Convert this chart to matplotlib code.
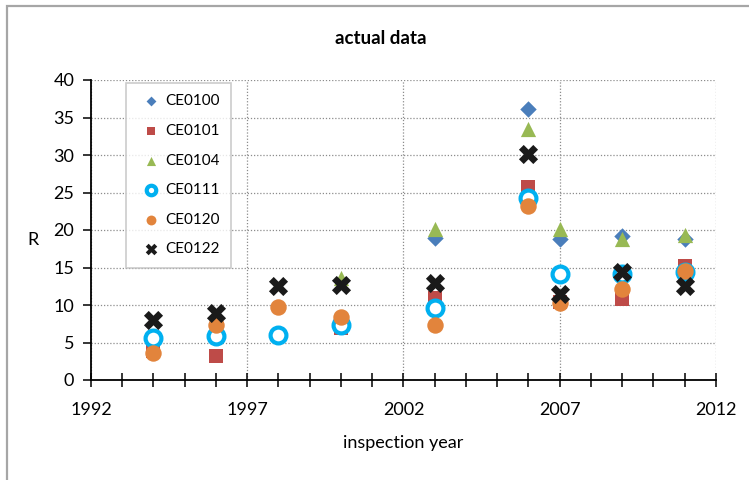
import matplotlib
matplotlib.use("Agg")
import matplotlib.pyplot as plt
from matplotlib.patches import Rectangle
from matplotlib.ticker import MultipleLocator

plt.rcParams["font.family"] = ["Lato", "DejaVu Sans"]

# values
yrs_100 = [2003, 2006, 2007, 2009, 2011]
ce0100 = [18.9, 36.2, 18.8, 19.2, 18.8]
yrs_101 = [1994, 1996, 2000, 2003, 2006, 2007, 2009, 2011]
ce0101 = [3.9, 3.2, 7.0, 11.0, 25.8, 10.4, 10.8, 15.2]
yrs_104 = [2000, 2003, 2006, 2007, 2009, 2011]
ce0104 = [13.6, 20.2, 33.5, 20.2, 18.8, 19.4]
yrs_all = [1994, 1996, 1998, 2000, 2003, 2006, 2007, 2009, 2011]
ce0111 = [5.6, 5.9, 6.0, 7.3, 9.6, 24.3, 14.1, 14.2, 14.4]
ce0120 = [3.6, 7.4, 9.7, 8.4, 7.4, 23.2, 10.3, 12.1, 14.5]
ce0122 = [8.0, 8.9, 12.6, 12.7, 13.0, 30.2, 11.5, 14.4, 12.6]
xticks = [1992, 1997, 2002, 2007, 2012]

fig = plt.figure(figsize=(7.49, 4.8), dpi=100)
ax = fig.add_axes([91/749, 1-380/480, (716-91)/749, 300/480])

# chart-area frame (runs past the right and bottom edges like the source)
fig.patches.append(Rectangle((7/749, -0.1), 1.2, 1-6/480+0.1, transform=fig.transFigure,
                             fill=False, ec="#a6a6a6", lw=1.6, zorder=-1))

ax.scatter(yrs_100, ce0100, marker="D", s=70, c="#4a7ebb", lw=0, label="CE0100", zorder=3)
ax.scatter(yrs_101, ce0101, marker="s", s=110, c="#be4b48", lw=0, label="CE0101", zorder=3)
ax.scatter(yrs_104, ce0104, marker="^", s=120, c="#98b954", lw=0, label="CE0104", zorder=3)
ax.scatter(yrs_all, ce0111, marker="o", s=130, facecolors="white", edgecolors="#00b0f0", lw=3, label="CE0111", zorder=3)
ax.scatter(yrs_all, ce0120, marker="o", s=140, c="#e2843c", lw=0, label="CE0120", zorder=3)
ax.scatter(yrs_all, ce0122, marker="X", s=190, c="#1a1a1a", lw=0, label="CE0122", zorder=3)

ax.set_xlim(1992, 2012); ax.set_ylim(0, 40)
ax.set_xticks(xticks); ax.xaxis.set_minor_locator(MultipleLocator(1))
ax.yaxis.set_major_locator(MultipleLocator(5))
ax.grid(True, which="major", ls=(0, (1, 1.5)), color="#8c8c8c", lw=0.9)
ax.set_axisbelow(True)
for sp in ["top", "right"]: ax.spines[sp].set_visible(False)
for sp in ["left", "bottom"]: ax.spines[sp].set_linewidth(1.3)
ax.tick_params(axis="x", which="both", direction="inout", length=10, width=1.1, labelsize=13, pad=11)
ax.tick_params(axis="y", direction="out", length=6, width=1.1, labelsize=13, pad=6)

ax.set_xlabel("inspection year", fontsize=13, labelpad=12)
fig.text(33/749, 1-240/480, "R", fontsize=13, ha="center", va="center")
fig.text(381/749, 1-38/480, "actual data", fontsize=13.5, fontweight="bold", ha="center", va="center")

leg = ax.legend(loc="upper left", bbox_to_anchor=(0.056, 0.99),
                frameon=True, fancybox=False, edgecolor="#bfbfbf", fontsize=11, labelspacing=1.02,
                handletextpad=0.0, borderpad=0.75, markerscale=0.6, handlelength=1.8, borderaxespad=0)
leg.get_frame().set_linewidth(1.2)

fig.savefig("out.png", dpi=100)
